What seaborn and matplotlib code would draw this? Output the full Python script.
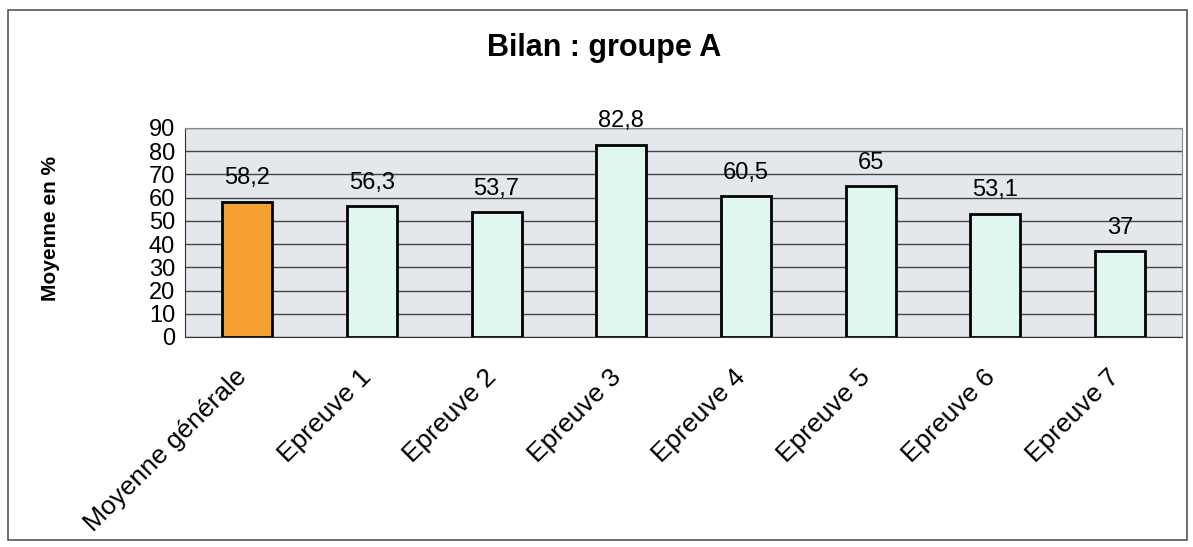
import pandas as pd
import matplotlib.pyplot as plt
import seaborn as sns
from matplotlib.patches import Rectangle
from matplotlib.transforms import ScaledTranslation

categories = ['Moyenne générale', 'Epreuve 1', 'Epreuve 2', 'Epreuve 3',
              'Epreuve 4', 'Epreuve 5', 'Epreuve 6', 'Epreuve 7']
moyennes = [58.2, 56.3, 53.7, 82.8, 60.5, 65, 53.1, 37]
value_labels = ['58,2', '56,3', '53,7', '82,8', '60,5', '65', '53,1', '37']

df = pd.DataFrame({'epreuve': categories, 'moyenne': moyennes})

sns.set_style('white')
plt.rcParams['font.family'] = ['Liberation Sans', 'DejaVu Sans']
plt.rcParams.update({'text.color': 'black', 'axes.labelcolor': 'black',
                     'xtick.color': 'black', 'ytick.color': 'black'})

fig = plt.figure(figsize=(11.93, 5.47), dpi=100)
ax = fig.add_axes([0.155, 0.384, 0.836, 0.382])

# orange for the overall mean, pale cyan for each test
colors = ['#f5a132'] + ['#dff7ef'] * (len(categories) - 1)
sns.barplot(data=df, x='epreuve', y='moyenne', hue='epreuve', palette=colors,
            legend=False, width=0.4, edgecolor='black', linewidth=2,
            saturation=1, ax=ax, zorder=3)

ax.set_facecolor('#e4e8ec')
ax.set_ylim(0, 90)
ax.set_xlim(-0.5, len(categories) - 0.5)
ax.set_yticks(range(0, 91, 10))
ax.yaxis.grid(True, color='#444444', linewidth=1)
ax.set_axisbelow(True)
for s in ['top', 'right']:
    ax.spines[s].set_color('#888888')
for s in ['left', 'bottom']:
    ax.spines[s].set_color('#333333')

# ticks between the categories
ax.set_xticks([i - 0.5 for i in range(len(categories) + 1)], minor=True)
ax.tick_params(axis='x', which='minor', length=5, color='#333333')
ax.tick_params(axis='x', which='major', length=0, pad=6)
ax.tick_params(axis='y', length=5, color='#333333', labelcolor='black',
               labelsize=17, pad=2)
ax.set_xticks(range(len(categories)))
ax.set_xticklabels(categories, rotation=45, ha='right', rotation_mode='anchor',
                   fontsize=19, color='black')
shift = ScaledTranslation(-9 / 72, -14 / 72, fig.dpi_scale_trans)
for lab in ax.get_xticklabels():
    lab.set_transform(lab.get_transform() + shift)

for i, (v, lab) in enumerate(zip(moyennes, value_labels)):
    ax.annotate(lab, (i, v), xytext=(0, 9), textcoords='offset points',
                ha='center', va='bottom', fontsize=17, color='black', zorder=4)

ax.set_xlabel('')
ax.set_ylabel('Moyenne en %', fontsize=15, fontweight='bold', color='black')
ax.yaxis.set_label_coords(-0.125, 0.52)
fig.text(0.506, 0.912, 'Bilan : groupe A', ha='center', va='center',
         fontsize=22, fontweight='bold', color='black')

# outer frame around the chart
fig.patches.append(Rectangle((0.007, 0.012), 0.988, 0.97, transform=fig.transFigure,
                             fill=False, edgecolor='#555555', linewidth=1.2))

fig.savefig('out.png', dpi=100)
